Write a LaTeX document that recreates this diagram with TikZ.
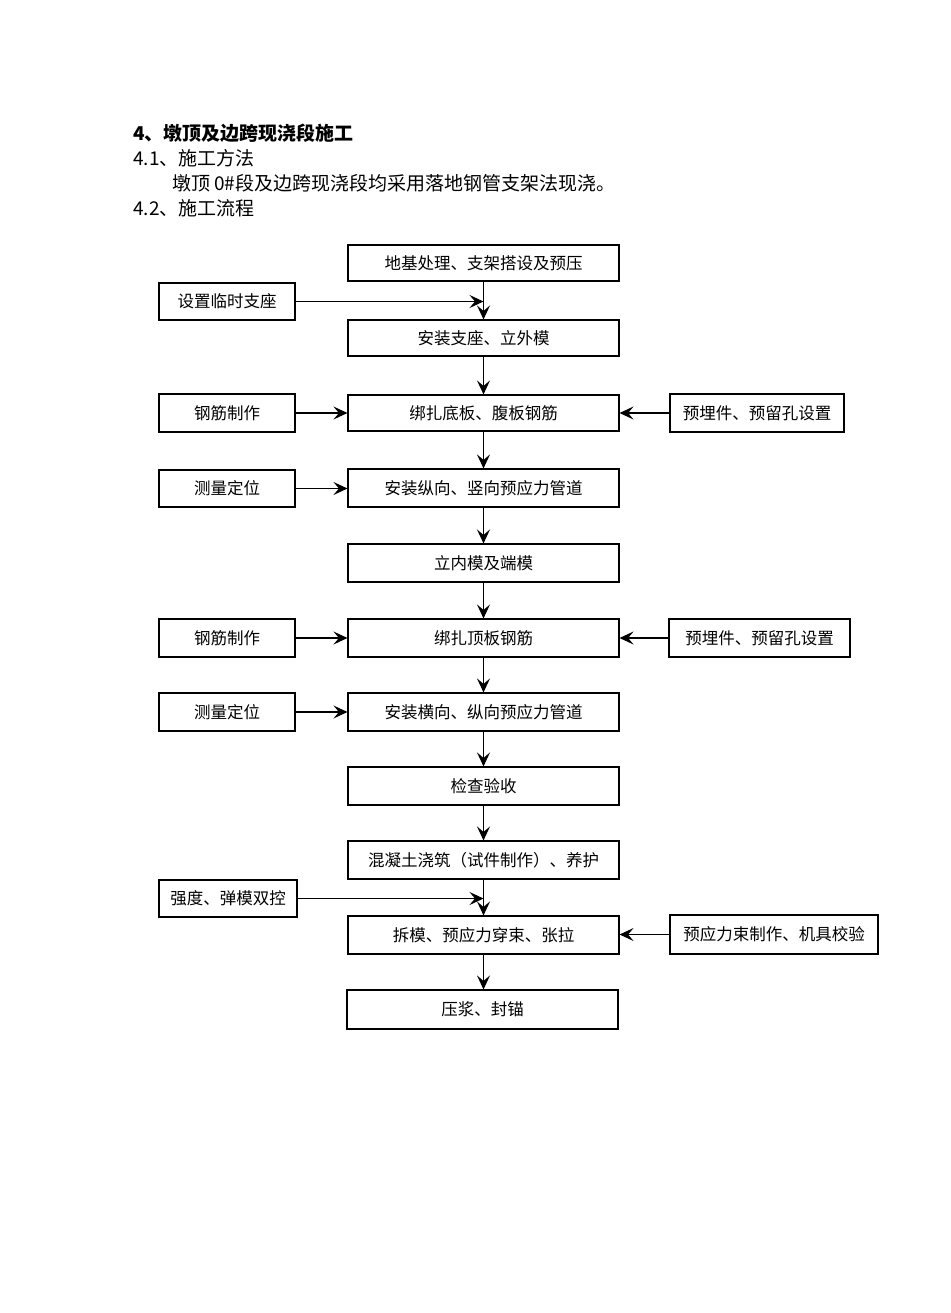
\documentclass[tikz,border=0pt]{standalone}
\usepackage{fontspec}
\setmainfont{Noto Sans CJK SC}
\usetikzlibrary{arrows.meta,calc}
\begin{document}
\begin{tikzpicture}[x=1pt,y=-1pt,
  box/.style={draw,line width=1.1pt,inner sep=0pt,font=\fontsize{16.5}{20}\selectfont},
  mainbox/.style={box,minimum width=271pt,minimum height=37pt},
  sidebox/.style={box,minimum width=136pt,minimum height=37pt},
  arr/.style={line width=1.1pt,-{Stealth[length=14pt,width=13pt,inset=5.5pt]}},
  head/.style={anchor=west,inner sep=0pt,font=\fontsize{19}{22}\selectfont}]
\useasboundingbox (0,0) rectangle (950,1313);
% headings
\node[head,font=\fontsize{19}{22}\selectfont\bfseries] (h1) at (133,133) {4、墩顶及边跨现浇段施工};
\node[head] (h2) at (133,158) {4.1、施工方法};
\node[head] (h3) at (172,183) {墩顶 0\#段及边跨现浇段均采用落地钢管支架法现浇。};
\node[head] (h4) at (133,208) {4.2、施工流程};
% main column
\node[mainbox,minimum height=36pt] (b1) at (483.5,263) {地基处理、支架搭设及预压};
\node[mainbox,minimum height=36pt] (b2) at (483.5,338) {安装支座、立外模};
\node[mainbox,minimum height=36pt] (b3) at (483.5,413) {绑扎底板、腹板钢筋};
\node[mainbox,minimum height=38pt] (b4) at (483.5,488) {安装纵向、竖向预应力管道};
\node[mainbox,minimum height=38pt] (b5) at (483.5,563) {立内模及端模};
\node[mainbox,minimum height=38pt] (b6) at (483.5,638) {绑扎顶板钢筋};
\node[mainbox,minimum height=38pt] (b7) at (483.5,712) {安装横向、纵向预应力管道};
\node[mainbox,minimum height=38pt] (b8) at (483.5,786) {检查验收};
\node[mainbox,minimum height=38pt] (b9) at (483.5,860) {混凝土浇筑（试件制作）、养护};
\node[mainbox,minimum height=38pt] (b10) at (483.5,935) {拆模、预应力穿束、张拉};
\node[mainbox,minimum height=39pt] (b11) at (482.5,1009.5) {压浆、封锚};
% left column
\node[sidebox] (l1) at (227,301.5) {设置临时支座};
\node[sidebox,minimum height=38pt] (l2) at (227,413) {钢筋制作};
\node[sidebox] (l3) at (227,488.5) {测量定位};
\node[sidebox,minimum height=38pt] (l4) at (227,638) {钢筋制作};
\node[sidebox,minimum height=38pt] (l5) at (227,712) {测量定位};
\node[sidebox,minimum width=138pt] (l6) at (228,898.5) {强度、弹模双控};
% right column
\node[sidebox,minimum width=174pt,minimum height=38pt] (r1) at (757,413) {预埋件、预留孔设置};
\node[sidebox,minimum width=181pt,minimum height=38pt] (r2) at (759.5,638) {预埋件、预留孔设置};
\node[sidebox,minimum width=208pt,minimum height=39pt] (r3) at (774,934.5) {预应力束制作、机具校验};
% junctions
\coordinate (j1) at (b1.south |- l1.east);
\coordinate (j2) at (b9.south |- l6.east);
% vertical flow
\draw[arr] (b1.south) -- (b2.north);
\draw[arr] (b2.south) -- (b3.north);
\draw[arr] (b3.south) -- (b4.north);
\draw[arr] (b4.south) -- (b5.north);
\draw[arr] (b5.south) -- (b6.north);
\draw[arr] (b6.south) -- (b7.north);
\draw[arr] (b7.south) -- (b8.north);
\draw[arr] (b8.south) -- (b9.north);
\draw[arr] (b9.south) -- (b10.north);
\draw[arr] (b10.south) -- (b10.south |- b11.north);
% side inputs
\draw[arr] (l1.east) -- (j1);
\draw[arr] (l2.east) -- (b3.west);
\draw[arr] (l3.east) -- (b4.west |- l3.east);
\draw[arr] (l4.east) -- (b6.west);
\draw[arr] (l5.east) -- (b7.west);
\draw[arr] (l6.east) -- (j2);
\draw[arr] (r1.west) -- (b3.east);
\draw[arr] (r2.west) -- (b6.east);
\draw[arr] (r3.west) -- (b10.east |- r3.west);
\end{tikzpicture}
\end{document}
